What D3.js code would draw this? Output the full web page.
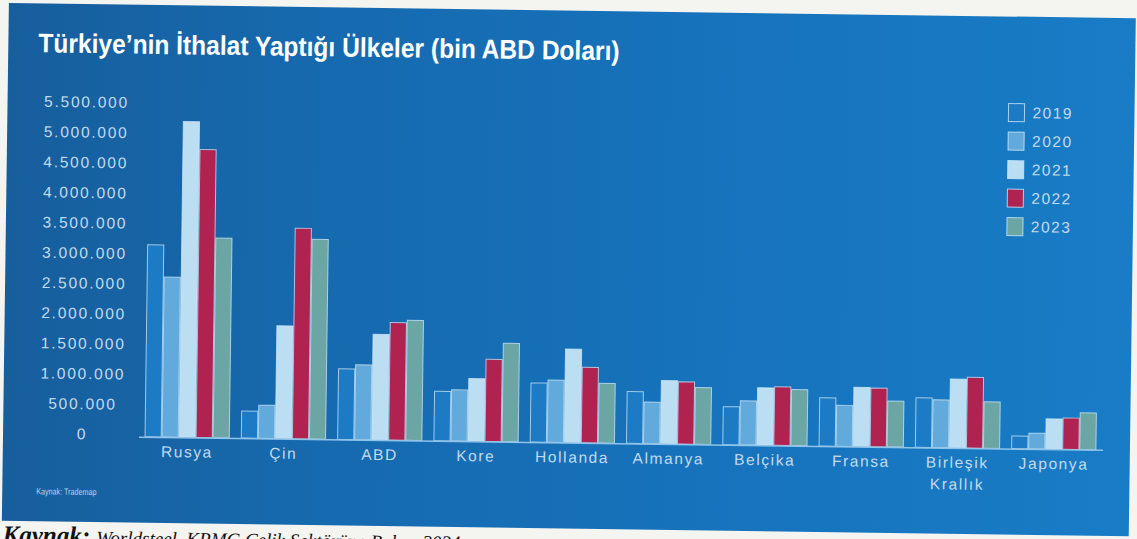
<!DOCTYPE html>
<html lang="tr">
<head>
<meta charset="utf-8">
<script src="https://cdn.jsdelivr.net/npm/d3@7"></script>
<style>
  html, body { margin: 0; padding: 0; background: #f4f4f1; }
  svg { display: block; }
</style>
</head>
<body>
<svg id="chart" width="1137" height="539"></svg>
<script>
// Türkiye'nin ithalat yaptığı ülkeler, bin ABD Doları
const countries = ["Rusya", "Çin", "ABD", "Kore", "Hollanda", "Almanya", "Belçika", "Fransa", "Birleşik Krallık", "Japonya"];
const years = ["2019", "2020", "2021", "2022", "2023"];
const v2019 = [3180000, 450000, 1170000, 820000, 980000, 860000, 630000, 800000, 820000, 210000];
const v2020 = [2650000, 550000, 1240000, 850000, 1030000, 690000, 730000, 680000, 790000, 260000];
const v2021 = [5230000, 1870000, 1750000, 1040000, 1550000, 1050000, 950000, 980000, 1140000, 500000];
const v2022 = [4770000, 3490000, 1950000, 1360000, 1250000, 1030000, 970000, 970000, 1170000, 520000];
const v2023 = [3310000, 3310000, 1990000, 1630000, 990000, 940000, 930000, 760000, 770000, 610000];
const yTicks = [0, 500000, 1000000, 1500000, 2000000, 2500000, 3000000, 3500000, 4000000, 4500000, 5000000, 5500000];

const seriesValues = [v2019, v2020, v2021, v2022, v2023];
const yearColors = ["#1c7bc4", "#62aadb", "#bcdef3", "#b0224f", "#6ba6a5"];

const svg = d3.select("#chart");
const fmt = d3.formatLocale({ decimal: ",", thousands: ".", grouping: [3], currency: ["", ""] }).format(",");

// Page background (the printed sheet)
svg.append("rect").attr("width", 1137).attr("height", 539).attr("fill", "#f4f4f1");

const defs = svg.append("defs");
const grad = defs.append("linearGradient").attr("id", "panelBg").attr("x1", "0").attr("x2", "1").attr("y1", "0").attr("y2", "0");
grad.append("stop").attr("offset", "0%").attr("stop-color", "#175e9c");
grad.append("stop").attr("offset", "25%").attr("stop-color", "#1669ad");
grad.append("stop").attr("offset", "60%").attr("stop-color", "#1672bb");
grad.append("stop").attr("offset", "100%").attr("stop-color", "#197cc6");

// Whole sheet sits slightly rotated
const g = svg.append("g").attr("transform", "rotate(0.78,160,437)");

g.append("rect")
  .attr("x", 3).attr("y", 5).attr("width", 1127).attr("height", 518)
  .attr("fill", "url(#panelBg)");

// Title (condensed bold)
g.append("text")
  .attr("transform", "translate(33,54) scale(0.91,1)")
  .attr("fill", "#ffffff")
  .style("font-family", "'Liberation Sans', Arial, sans-serif")
  .style("font-weight", "700")
  .style("font-size", "27px")
  .text("Türkiye’nin İthalat Yaptığı Ülkeler (bin ABD Doları)");

// Scales
const baseY = 437;
const x0 = d3.scaleBand().domain(countries).range([139, 1102]).paddingInner(0.125).paddingOuter(0.0625);
const x1 = d3.scaleBand().domain(years).range([0, x0.bandwidth()]).paddingInner(0.05);
const y = d3.scaleLinear().domain([0, 5500000]).range([baseY, 105]);

const labelFont = "'Liberation Sans', Arial, sans-serif";
const labelColor = "#c3dbee";

// Y axis labels (centred column)
const yAxis = g.append("g").attr("transform", "translate(82,0)")
  .call(d3.axisLeft(y).tickValues(yTicks).tickFormat(fmt).tickSize(0));
yAxis.select(".domain").remove();
yAxis.selectAll("text")
  .attr("x", 0).attr("y", -2)
  .attr("text-anchor", "middle")
  .attr("fill", labelColor)
  .style("font-family", labelFont)
  .style("font-size", "15.5px")
  .style("letter-spacing", "1.75px");

// Bars
const groups = g.append("g").selectAll("g")
  .data(countries)
  .join("g")
  .attr("transform", d => `translate(${x0(d)},0)`);

groups.selectAll("rect")
  .data((c, i) => years.map((yr, k) => ({ yr, k, value: seriesValues[k][i] })))
  .join("rect")
  .attr("x", d => x1(d.yr))
  .attr("y", d => y(d.value))
  .attr("width", x1.bandwidth())
  .attr("height", d => baseY - y(d.value))
  .attr("fill", d => yearColors[d.k])
  .attr("stroke", "rgba(205,232,250,0.75)")
  .attr("stroke-width", 1);

// Baseline
g.append("line")
  .attr("x1", 139).attr("x2", 1103)
  .attr("y1", baseY + 0.5).attr("y2", baseY + 0.5)
  .attr("stroke", "#8fc3e8").attr("stroke-width", 1.5);

// X axis labels
const xAxis = g.append("g").attr("transform", `translate(0,${baseY})`)
  .call(d3.axisBottom(x0).tickSize(0));
xAxis.select(".domain").remove();
xAxis.selectAll("text")
  .attr("y", 9)
  .attr("fill", labelColor)
  .style("font-family", labelFont)
  .style("font-size", "15.5px")
  .style("letter-spacing", "1.6px")
  .each(function (d) {
    const parts = d.split(" ");
    if (parts.length > 1) {
      const t = d3.select(this).text(null);
      parts.forEach((p, i) => {
        t.append("tspan").attr("x", 0).attr("dy", i === 0 ? "0.71em" : "1.4em").text(p);
      });
    }
  });

// Legend
const legend = g.append("g").attr("transform", "translate(1004,92)");
const rows = legend.selectAll("g").data(years).join("g")
  .attr("transform", (d, i) => `translate(0,${i * 28.5})`);
rows.append("rect")
  .attr("width", 16).attr("height", 18)
  .attr("fill", (d, i) => yearColors[i])
  .attr("stroke", "rgba(205,232,250,0.8)").attr("stroke-width", 1);
rows.append("text")
  .attr("x", 24).attr("y", 9).attr("dy", "0.35em")
  .attr("fill", labelColor)
  .style("font-family", labelFont)
  .style("font-size", "15.5px")
  .style("letter-spacing", "1.5px")
  .text(d => d);

// Source note inside the panel
g.append("text")
  .attr("x", 37).attr("y", 496)
  .attr("fill", "#b9d3e8")
  .style("font-family", "'Liberation Sans', Arial, sans-serif")
  .style("font-size", "9px")
  .attr("transform", "translate(37,0) scale(0.8,1) translate(-37,0)")
  .text("Kaynak: Trademap");

// Caption printed under the panel
const cap = g.append("text")
  .attr("x", 4).attr("y", 545)
  .attr("fill", "#111")
  .style("font-family", "'Liberation Serif', 'Times New Roman', serif")
  .style("font-style", "italic");
cap.append("tspan").style("font-weight", "700").style("font-size", "25px").text("Kaynak: ");
cap.append("tspan").style("font-size", "19px").text("Worldsteel, KPMG Çelik Sektörüne Bakış, 2024");
</script>
</body>
</html>
